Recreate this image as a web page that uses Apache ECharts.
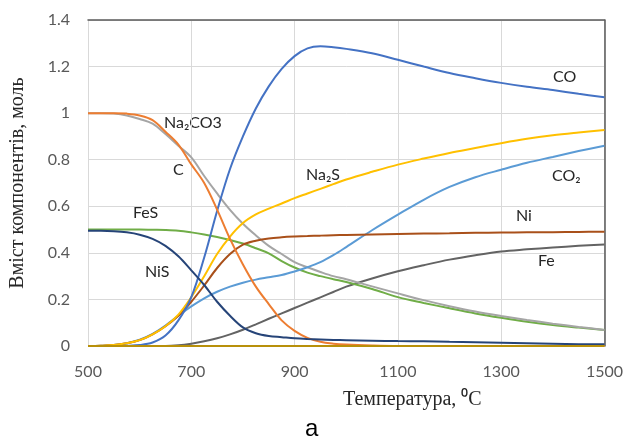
<!DOCTYPE html>
<html>
<head>
<meta charset="utf-8">
<script src="https://cdn.jsdelivr.net/npm/echarts@6/dist/echarts.min.js"></script>
<style>html,body{margin:0;padding:0;background:#fff;}#c{width:626px;height:443px;}</style>
</head>
<body>
<div id="c"></div>
<script>
var temps = [500,525,550,575,600,625,650,675,700,725,750,775,800,825,850,875,900,925,950,975,1000,1050,1100,1150,1200,1250,1300,1350,1400,1450,1500];

var CO    = [0,0,0,0.001,0.004,0.015,0.045,0.11,0.21,0.38,0.58,0.76,0.9,1.02,1.115,1.19,1.245,1.278,1.287,1.283,1.276,1.257,1.229,1.2,1.172,1.15,1.13,1.113,1.099,1.083,1.068];
var CO2   = [0,0.001,0.004,0.012,0.027,0.052,0.088,0.13,0.17,0.205,0.233,0.255,0.272,0.285,0.295,0.305,0.32,0.338,0.36,0.39,0.425,0.497,0.564,0.628,0.683,0.725,0.757,0.787,0.812,0.837,0.86];
var Ni    = [0,0.001,0.004,0.012,0.025,0.05,0.085,0.13,0.19,0.26,0.335,0.395,0.435,0.452,0.462,0.467,0.47,0.472,0.474,0.476,0.477,0.479,0.481,0.483,0.484,0.486,0.487,0.488,0.489,0.49,0.491];
var Na2S  = [0,0.001,0.004,0.012,0.025,0.05,0.085,0.135,0.21,0.3,0.395,0.47,0.528,0.565,0.59,0.612,0.635,0.655,0.675,0.695,0.715,0.748,0.779,0.805,0.829,0.85,0.871,0.89,0.905,0.917,0.928];
var Na2CO3= [1.0,1.0,0.998,0.99,0.975,0.955,0.91,0.86,0.81,0.73,0.655,0.585,0.525,0.475,0.43,0.395,0.36,0.338,0.318,0.3,0.287,0.256,0.226,0.197,0.171,0.148,0.129,0.112,0.096,0.082,0.069];
var C     = [1.0,1.0,1.0,0.998,0.99,0.97,0.92,0.865,0.78,0.7,0.586,0.46,0.35,0.255,0.18,0.11,0.065,0.035,0.018,0.01,0.006,0.002,0,0,0,0,0,0,0,0,0];
var FeS   = [0.5,0.5,0.5,0.5,0.5,0.499,0.498,0.495,0.488,0.479,0.468,0.455,0.44,0.42,0.398,0.365,0.337,0.315,0.3,0.287,0.275,0.245,0.21,0.185,0.162,0.14,0.121,0.104,0.09,0.079,0.069];
var Fe    = [0,0,0,0,0,0,0,0.003,0.01,0.02,0.033,0.05,0.07,0.093,0.117,0.14,0.163,0.186,0.209,0.232,0.255,0.29,0.321,0.347,0.371,0.39,0.406,0.415,0.423,0.43,0.436];
var NiS   = [0.495,0.495,0.493,0.488,0.478,0.46,0.43,0.385,0.325,0.262,0.19,0.13,0.08,0.055,0.043,0.038,0.033,0.03,0.028,0.026,0.025,0.023,0.021,0.02,0.018,0.016,0.014,0.012,0.01,0.008,0.007];
var Zero  = [0,0,0,0,0,0,0,0,0,0,0,0,0,0,0,0,0,0,0,0,0,0,0,0,0,0,0,0,0,0,0];

function pairs(arr){ return temps.map(function(t,i){ return [t, arr[i]]; }); }

var seriesDefs = [
  {name:'Fe', data:Fe, color:'#636363'},
  {name:'FeS', data:FeS, color:'#70AD47'},
  {name:'Na2CO3', data:Na2CO3, color:'#A5A5A5'},
  {name:'CO2', data:CO2, color:'#5B9BD5'},
  {name:'Ni', data:Ni, color:'#A9501A'},
  {name:'Na2S', data:Na2S, color:'#FFC000'},
  {name:'CO', data:CO, color:'#4472C4'},
  {name:'C', data:C, color:'#ED7D31'},
  {name:'NiS', data:NiS, color:'#264478'},
  {name:'zero', data:Zero, color:'#B8900A'}
];

var chart = echarts.init(document.getElementById('c'), null, {renderer:'canvas'});
var tickFont = {fontFamily:'Lato', fontSize:16, color:'#595959'};
function lbl(text, x, y){
  return {type:'text', left:x, top:y, style:{text:text, font:'16px Lato', fill:'#262626'}};
}
chart.setOption({
  animation:false,
  backgroundColor:'#ffffff',
  grid:{left:86, right:21, top:20, bottom:97},
  xAxis:[{
    type:'value', min:500, max:1500, interval:200,
    axisLine:{show:false}, axisTick:{show:false},
    axisLabel:Object.assign({margin:18, formatter:function(v){return String(v);}}, tickFont),
    splitLine:{show:true, lineStyle:{color:'#D9D9D9', width:1}}
  },{
    type:'value', min:500, max:1500, position:'top',
    axisLine:{show:true, onZero:false, lineStyle:{color:'#595959', width:1.5}},
    axisTick:{show:false}, axisLabel:{show:false}, splitLine:{show:false}
  }],
  yAxis:[{
    type:'value', min:0, max:1.4, interval:0.2,
    axisLine:{show:false}, axisTick:{show:false},
    axisLabel:Object.assign({margin:18, formatter:function(v){return String(Math.round(v*10)/10);}}, tickFont),
    splitLine:{show:true, lineStyle:{color:'#D9D9D9', width:1}},
    name:'Вміст компонентів, моль', nameLocation:'middle', nameGap:60, nameRotate:90,
    nameTextStyle:{fontFamily:'Liberation Serif', fontSize:20, color:'#262626'}
  },{
    type:'value', min:0, max:1.4, position:'right',
    axisLine:{show:true, onZero:false, lineStyle:{color:'#595959', width:1.5}},
    axisTick:{show:false}, axisLabel:{show:false}, splitLine:{show:false}
  }],
  series: seriesDefs.map(function(s){
    return {name:s.name, type:'line', data:pairs(s.data), smooth:0.35, showSymbol:false, symbol:'none',
      lineStyle:{color:s.color, width:2}, itemStyle:{color:s.color}, z:3};
  }),
  graphic:[
    lbl('Na\u2082CO3', 164, 115),
    lbl('C', 173, 162),
    lbl('FeS', 133, 205),
    lbl('NiS', 145, 264),
    lbl('Na\u2082S', 306, 167),
    lbl('CO', 553, 69),
    lbl('CO\u2082', 552, 168),
    lbl('Ni', 516, 208),
    lbl('Fe', 538, 253),
    {type:'text', left:343, top:390, style:{text:'Температура, \u2070C', font:'20px "Liberation Serif"', fill:'#262626'}},
    {type:'text', left:305, top:417, style:{text:'a', font:'24px "Liberation Sans"', fill:'#000000'}}
  ]
});
</script>
</body>
</html>
